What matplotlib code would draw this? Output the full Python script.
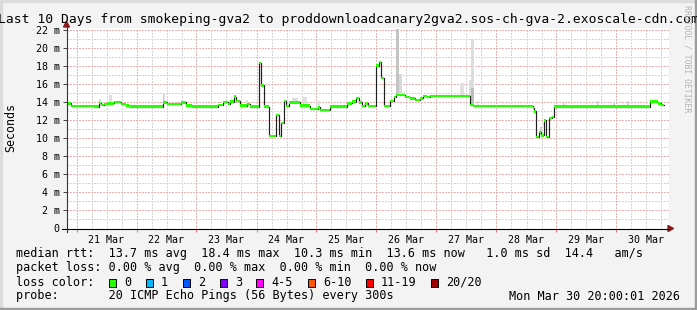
import numpy as np
import matplotlib
matplotlib.use("Agg")
import matplotlib.pyplot as plt
from matplotlib.patches import Rectangle, Polygon
from matplotlib.lines import Line2D

W, H = 697, 310
MONO = "DejaVu Sans Mono"

# median rtt (ms), step series: hours after Mar 20 20:00, value held until next entry
med_hours = [0.0, 1.6, 10.8, 12.8, 13.6, 14.8, 16.4, 18.8, 21.6, 23.6, 24.8,
             38.8, 40.0, 43.6, 45.6, 47.6, 50.4, 60.8, 62.8, 64.8, 65.6, 67.2,
             68.0, 69.6, 72.4, 73.6, 76.9, 77.9, 78.9, 81.1, 83.7, 85.0, 85.8,
             86.9, 87.8, 88.9, 93.2, 97.6, 100.4, 101.6, 105.6, 112.4, 114.4,
             116.0, 117.2, 118.4, 119.6, 120.8, 123.9, 124.9, 125.9, 126.9,
             129.6, 130.9, 132.0, 135.6, 137.6, 139.6, 141.6, 142.8, 144.4,
             145.6, 161.6, 162.8, 186.4, 187.0, 187.9, 189.1, 189.7, 191.1,
             191.9, 192.9, 194.3, 194.9, 233.6, 236.8, 238.0]
med_ms = [13.9, 13.6, 13.55, 13.95, 13.75, 13.85, 13.9, 14.05, 13.85, 13.65, 13.55,
          14.0, 13.8, 13.85, 14.0, 13.65, 13.55, 13.75, 14.05, 13.85, 14.1, 14.65,
          14.2, 13.65, 13.85, 13.55, 18.4, 15.9, 13.55, 10.3, 12.6, 10.3, 11.7,
          14.2, 13.6, 14.0, 13.65, 13.3, 13.45, 13.2, 13.55, 13.9, 14.1,
          14.5, 14.0, 13.6, 13.9, 13.6, 18.1, 18.5, 16.7, 13.6,
          14.2, 14.6, 14.8, 14.6, 14.45, 14.3, 14.45, 14.75, 14.6,
          14.75, 13.75, 13.6, 13.4, 13.0, 10.2, 10.7, 10.35, 12.0,
          10.2, 12.3, 12.4, 13.55, 14.1, 13.9, 13.75]
end_hour = 239.2

# smoke (spread of the pings): start/end hour, bottom/top ms, shade
smoke_start = [12.8, 16.8, 38.8, 72.0, 90.0, 94.7, 100.0, 131.8, 133.2, 134.2,
               157.6, 161.2, 162.0, 162.0, 164.4, 189.6, 198.4, 212.4, 218.8, 224.4]
smoke_end = [13.6, 18.0, 39.6, 72.8, 92.7, 96.0, 101.6, 133.2, 134.2, 135.6,
             159.0, 162.0, 163.2, 163.0, 165.2, 190.4, 199.2, 213.2, 219.6, 225.2]
smoke_bottom = [13.8, 13.9, 14.0, 13.8, 14.0, 13.7, 13.45, 14.8, 14.8, 14.8,
                14.75, 14.75, 13.6, 13.6, 13.6, 10.35, 13.55, 13.55, 13.55, 13.55]
smoke_top = [14.4, 14.8, 15.1, 14.3, 14.5, 14.6, 14.2, 22.2, 17.2, 15.2,
             16.2, 16.5, 21.1, 15.6, 14.2, 11.3, 13.95, 14.2, 14.0, 14.2]
smoke_shade = ["#dedede", "#dedede", "#d6d6d6", "#e0e0e0", "#dedede", "#dedede",
               "#e0e0e0", "#c4c4c4", "#d9d9d9", "#e4e4e4", "#e0e0e0", "#dcdcdc",
               "#dcdcdc", "#bcbcbc", "#e0e0e0", "#d0d0d0", "#d8d8d8", "#d8d8d8",
               "#d8d8d8", "#d8d8d8"]

day_labels = ["21 Mar", "22 Mar", "23 Mar", "24 Mar", "25 Mar",
              "26 Mar", "27 Mar", "28 Mar", "29 Mar", "30 Mar"]
y_ticks = [0, 2, 4, 6, 8, 10, 12, 14, 16, 18, 20, 22]

loss_labels = ["0", "1", "2", "3", "4-5", "6-10", "11-19", "20/20"]
loss_colors = ["#26ff00", "#00b8ff", "#0059ff", "#7e00ff", "#ff00ff",
               "#ff5500", "#ff0000", "#a10000"]
loss_box_x = [108.5, 145.5, 182.5, 219.5, 256, 307.5, 365.5, 431]

title = "Last 10 Days from smokeping-gva2 to proddownloadcanary2gva2.sos-ch-gva-2.exoscale-cdn.com"
row_rtt = "median rtt:  13.7 ms avg  18.4 ms max  10.3 ms min  13.6 ms now   1.0 ms sd  14.4   am/s"
row_loss = "packet loss: 0.00 % avg  0.00 % max  0.00 % min  0.00 % now"
row_probe = "probe:       20 ICMP Echo Pings (56 Bytes) every 300s"
stamp = "Mon Mar 30 20:00:01 2026"

fig = plt.figure(figsize=(W / 100, H / 100), dpi=100)
fig.patch.set_facecolor("#f3f3f3")


def fx(px):
    return px / W


def fy(py):
    return 1 - py / H


# plot area: x 66..668 px, y 27..228 px
ax = fig.add_axes([fx(66.5), fy(228.5), fx(602), 201 / H])
ax.set_facecolor("white")
ax.set_xlim(0, 240.8)
ax.set_ylim(0, 22.333)
for s in ax.spines.values():
    s.set_visible(False)

# grid (1 px dots, no antialiasing like rrdtool)
minor_v = np.arange(4, 241, 6)
major_v = np.arange(4, 241, 24)
dots = (0, (1.4, 1.4))
gkw = dict(linewidth=0.72, linestyles=dots, antialiased=False)
ax.vlines([v for v in minor_v if v not in major_v], 0, 22.333, colors="#d4d4d4",
          zorder=1, **gkw)
ax.hlines([v for v in range(1, 23) if v % 2], 0, 240.8, colors="#d4d4d4",
          zorder=1, **gkw)
ax.vlines(major_v, 0, 22.333, colors="#f0b0b0", zorder=1.1, **gkw)
ax.hlines([v for v in y_ticks if v > 0], 0, 240.8, colors="#f0b0b0",
          zorder=1.1, **gkw)

# smoke
ax.bar(smoke_start, np.array(smoke_top) - np.array(smoke_bottom),
       width=np.array(smoke_end) - np.array(smoke_start), bottom=smoke_bottom,
       align="edge", color=smoke_shade, linewidth=0, zorder=2)

# median line: thin black steps plus green band on the flat parts
xs = np.array(med_hours + [end_hour])
ys = np.array(med_ms + [med_ms[-1]])
ax.step(xs, ys, where="post", color="#202020", linewidth=0.85, zorder=3)
ax.fill_between(xs, ys - 0.13, ys + 0.13, step="post", color=loss_colors[0],
                linewidth=0, zorder=4)

# ticks and labels
ax.set_yticks(y_ticks)
ax.set_yticklabels(["0"] + [f"{v} m" for v in y_ticks[1:]], fontfamily=MONO,
                   fontsize=7.2)
ax.tick_params(axis="y", length=3, width=0.7, color="#404040", pad=2)
ax.set_xticks(major_v + 12)
ax.set_xticklabels(day_labels, fontfamily=MONO, fontsize=7.2)
ax.tick_params(axis="x", length=0, pad=5)
ax.set_xticks(major_v, minor=True)
ax.tick_params(axis="x", which="minor", length=2, width=0.7, color="#e07070",
               direction="out")

# axis lines with arrows
fig.add_artist(Line2D([fx(62), fx(669)], [fy(228.5), fy(228.5)], color="black",
                      linewidth=0.8))
fig.add_artist(Line2D([fx(66.5), fx(66.5)], [fy(232), fy(25)], color="#333333",
                      linewidth=0.8))
fig.add_artist(Polygon([[fx(668), fy(225.5)], [fx(673.5), fy(228.5)], [fx(668), fy(231.5)]],
                       closed=True, color="#8b1a1a", transform=fig.transFigure))
fig.add_artist(Polygon([[fx(63.5), fy(27)], [fx(66.5), fy(21.5)], [fx(69.5), fy(27)]],
                       closed=True, color="#8b1a1a", transform=fig.transFigure))

# title and side texts
fig.text(0.5, fy(19), title, ha="center", va="center", fontfamily=MONO,
         fontsize=9.4)
fig.text(fx(11), fy(127), "Seconds", rotation=90, ha="center", va="center",
         fontfamily=MONO, fontsize=8.4)
fig.text(fx(686.5), fy(59), "RRDTOOL / TOBI OETIKER", rotation=270, ha="center",
         va="center", fontfamily=MONO, fontsize=5.9, color="#b4b4b4")

# legend rows
fig.text(fx(16), fy(254), row_rtt, ha="left", va="center", fontfamily=MONO, fontsize=8.44)
fig.text(fx(16), fy(268), row_loss, ha="left", va="center", fontfamily=MONO, fontsize=8.44)
fig.text(fx(16), fy(282), "loss color:", ha="left", va="center", fontfamily=MONO,
         fontsize=8.44)
for bx, lab, col in zip(loss_box_x, loss_labels, loss_colors):
    fig.add_artist(Rectangle((fx(bx), fy(286.5)), fx(7), 8 / H, facecolor=col,
                             edgecolor="black", linewidth=0.7,
                             transform=fig.transFigure))
    fig.text(fx(bx + 15.5), fy(282), lab, ha="left", va="center", fontfamily=MONO,
             fontsize=8.44)
fig.text(fx(16), fy(296), row_probe, ha="left", va="center", fontfamily=MONO, fontsize=8.44)
fig.text(fx(680), fy(296), stamp, ha="right", va="center", fontfamily=MONO, fontsize=8.44)

# image frame
fig.add_artist(Rectangle((0, fy(2)), 1, 2 / H, color="#dcdcdc", transform=fig.transFigure))
fig.add_artist(Rectangle((0, 0), fx(2), 1, color="#dcdcdc", transform=fig.transFigure))
fig.add_artist(Rectangle((0, 0), 1, 2 / H, color="#9c9c9c", transform=fig.transFigure))
fig.add_artist(Rectangle((fx(695), 0), fx(2), 1, color="#9c9c9c", transform=fig.transFigure))

fig.savefig("out.png", dpi=100, facecolor=fig.get_facecolor())
